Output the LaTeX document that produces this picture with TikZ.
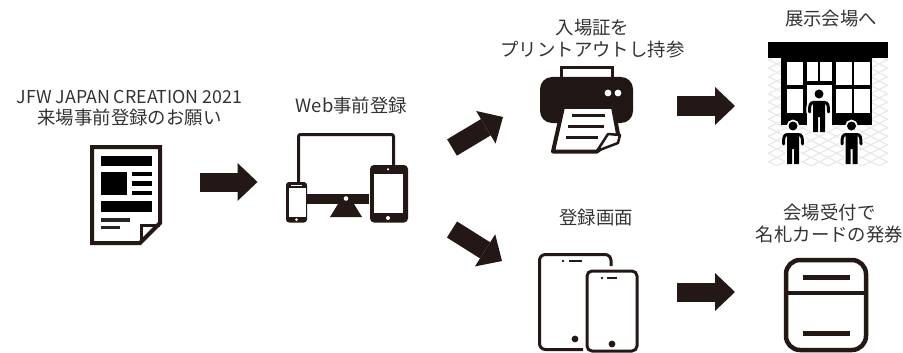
\documentclass[tikz,border=0pt]{standalone}
\usepackage{fontspec}
\setmainfont{Noto Sans CJK JP}
\usetikzlibrary{arrows.meta}
\definecolor{ink}{HTML}{231815}
\definecolor{label}{HTML}{333333}
\definecolor{hatch}{HTML}{E8E8E8}
\tikzset{
  lbl/.style={inner sep=0pt,align=center,text=label,font=\fontsize{18.4}{21.5}\selectfont},
  flow/.style={draw=ink,line width=19pt,-{Triangle[length=20pt,width=38pt,line width=0pt,fill=ink]}},
  ic/.style={draw=ink,line join=round}
}
\newcommand{\figperson}[2]{%
  \begin{scope}[shift={(#1,#2)}]
    \foreach \c/\w/\ww in {white/3.5/6.5,black/0/3}{
      \ifdim\w pt>0pt
        \fill[\c,draw=\c,line width=\w pt] (0,0) circle (4.5);
        \fill[\c,draw=\c,line width=\w pt] (-6,7)--(6,7)--(6,38)--(1,38)--(1,23)--(-1,23)--(-1,38)--(-6,38)--cycle;
      \else
        \fill[\c] (0,0) circle (4.5);
        \fill[\c] (-6,7)--(6,7)--(6,38)--(1,38)--(1,23)--(-1,23)--(-1,38)--(-6,38)--cycle;
      \fi
      \draw[\c,line width=\ww pt,line cap=round] (-5,8.5) .. controls (-9,8.5) and (-9.5,11) .. (-9.5,18);
      \draw[\c,line width=\ww pt,line cap=round] (5,8.5) .. controls (9,8.5) and (9.5,11) .. (9.5,18);
    }
  \end{scope}}
\begin{document}
\begin{tikzpicture}[x=1pt,y=-1pt]
\useasboundingbox (0,0) rectangle (903,353);
% labels
\node[lbl] (t1) at (129.5,108) {\fontsize{17.8}{22}\selectfont JFW JAPAN CREATION 2021\\\fontsize{18.4}{22}\selectfont 来場事前登録のお願い};
\node[lbl] (t2) at (351.5,105) {Web事前登録};
\node[lbl] (t3) at (592.5,38.5) {入場証を\\プリントアウトし持参};
\node[lbl] (t4) at (831,19) {展示会場へ};
\node[lbl] (t5) at (596,218) {登録画面};
\node[lbl] (t6) at (829.5,223.5) {会場受付で\\名札カードの発券};
% flow arrows
\coordinate (a1s) at (200,182); \coordinate (a1e) at (257.5,182);
\coordinate (a2s) at (452,147.5); \coordinate (a2e) at (503,117);
\coordinate (a3s) at (677,106); \coordinate (a3e) at (735,106);
\coordinate (a4s) at (452,229.5); \coordinate (a4e) at (502,261);
\coordinate (a5s) at (677,292); \coordinate (a5e) at (735,292);
\foreach \s/\e in {a1s/a1e,a2s/a2e,a3s/a3e,a4s/a4e,a5s/a5e}
  \draw[flow] (\s) -- (\e);
% document icon
\draw[ic,line width=4pt,line join=miter] (92,147)--(160,147)--(160,223)--(140,243)--(92,243)--cycle;
\draw[ic,line width=3pt,line join=miter] (141,243)--(141,225)--(160,225);
\fill[black] (101,156) rectangle (152,166);
\fill[black] (101,172) rectangle (127,195);
\fill[black] (132,172) rectangle (152,176);
\fill[black] (132,181) rectangle (152,186);
\fill[black] (132,191) rectangle (152,195);
\fill[black] (101,201) rectangle (152,212);
\fill[black!85] (101,218) rectangle (130,221.5);
\fill[black!85] (101,226) rectangle (120,229);
% devices icon
\draw[ic,line width=3pt,rounded corners=2pt] (298.5,190)--(298.5,134.5)--(393.5,134.5)--(393.5,170);
\fill[ink] (300,194) rectangle (380,204);
\fill[ink] (338,204)--(354,204)--(362,217)--(330,217)--cycle;
\fill[white] (346,198.5) circle (2.3);
\fill[ink,rounded corners=3pt] (286,182) rectangle (307,222.5);
\fill[white] (288.5,187.5) rectangle (305.5,217);
\fill[white] (296.5,219.7) circle (1.5);
\fill[white] (291,184.5) rectangle (302,185.3);
\fill[white] (369,163) rectangle (370,224);
\fill[ink,rounded corners=4pt] (370,165) rectangle (408,222.5);
\fill[white] (373.5,174) rectangle (403,213);
\fill[white] (388,218) circle (2);
\fill[white] (388,169.3) circle (1.2);
% printer icon
\draw[ic,line width=3pt,line join=miter] (561,78)--(561,67.5)--(612.5,67.5)--(612.5,78);
\fill[ink!90!black,rounded corners=12pt] (540,77) rectangle (633,123);
\fill[white] (608,93) circle (3.4);
\fill[white] (618,93) circle (3.4);
\draw[ic,fill=white,line width=4pt] (563,107)--(613,107)--(618,134)--(597,151.5)--(553,151.5)--cycle;
\draw[ic,fill=white,line width=2.5pt] (597,151)--(608,134)--(620,135)--(618,143)--cycle;
\draw[ink,line width=3pt] (572,115.5)--(605,115.5);
\draw[ink,line width=3pt] (568,126)--(604,126);
\draw[ink,line width=3pt] (566,137)--(598,137);
% venue icon
\begin{scope}
  \clip (768,58) rectangle (888,165);
  \foreach \k in {-20,...,20}{
    \draw[hatch,line width=1.2pt] (828+17*\k-120,55)--(828+17*\k+120,175);
    \draw[hatch,line width=1.2pt] (828+17*\k+120,55)--(828+17*\k-120,175);
  }
\end{scope}
\fill[black] (768,42) rectangle (888,58);
\fill[black] (781,58) rectangle (872,125);
\foreach \xa/\ya/\xb/\yb in {787/62/803/85,807/62/818/81,820/62/832/81,836/62/852/85,854/62/870/85,787/89/803/113,836/89/852/113,854/89/870/113}
  \fill[white] (\xa,\ya) rectangle (\xb,\yb);
\fill[white] (807,85) rectangle (832,126);
\figperson{819}{94}
\figperson{793}{126}
\figperson{851.5}{126}
% registration screens icon
\draw[ic,line width=3pt,rounded corners=6pt] (583,349.5)--(539.5,349.5)--(539.5,254.5)--(611,254.5)--(611,266);
\fill[ink] (563,261) circle (1.4);
\draw[ink,line width=2.5pt] (569,261)--(582,261);
\fill[ink] (575,339) circle (3.4);
\draw[ic,line width=3pt,rounded corners=5pt] (587,271)--(637,271)--(637,351)--(587,351)--cycle;
\fill[ink] (602,278) circle (1.4);
\draw[ink,line width=2.5pt] (607,278)--(617,278);
\fill[ink] (612,344) circle (3.4);
% card icon
\begin{scope}
  \clip (780,250) rectangle (875,352);
  \draw[ic,line width=4.5pt,rounded corners=14pt] (786,260)--(866,260)--(866,350)--(786,350)--cycle;
\end{scope}
\draw[ink,line width=4pt] (786,293)--(866,293);
\draw[ink,line width=5pt] (803,277)--(850,277);
\draw[ink,line width=5pt] (803,333)--(850,333);
\end{tikzpicture}
\end{document}
